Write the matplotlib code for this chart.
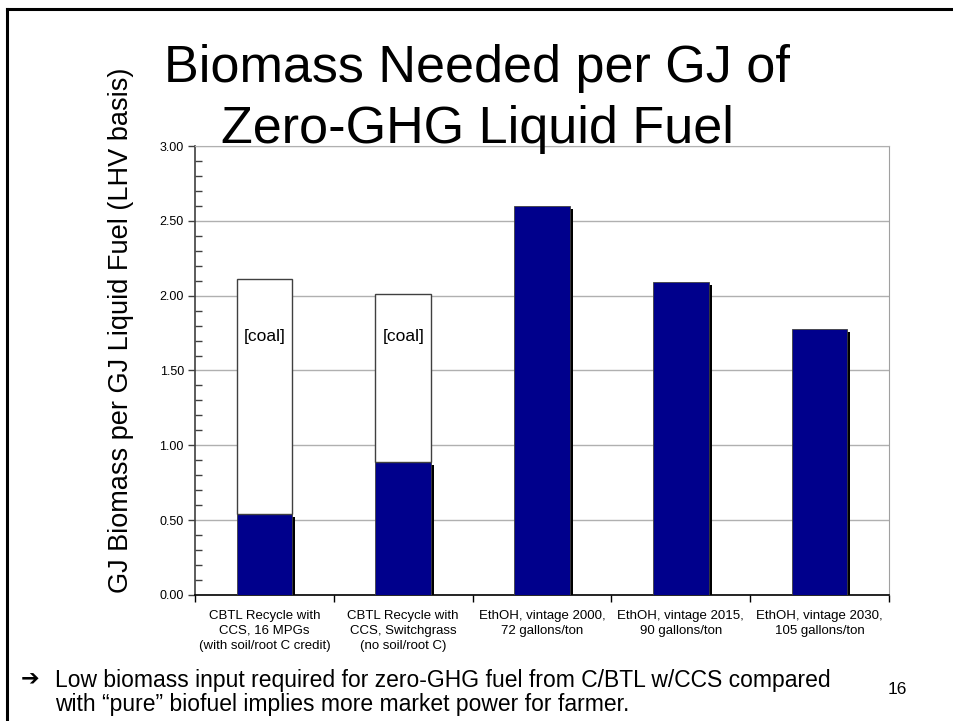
import matplotlib.pyplot as plt
import numpy as np

plt.rcParams['font.family'] = ['Liberation Sans', 'DejaVu Sans']

# data
categories = ['CBTL Recycle with\nCCS, 16 MPGs\n(with soil/root C credit)',
              'CBTL Recycle with\nCCS, Switchgrass\n(no soil/root C)',
              'EthOH, vintage 2000,\n72 gallons/ton',
              'EthOH, vintage 2015,\n90 gallons/ton',
              'EthOH, vintage 2030,\n105 gallons/ton']
biomass = [0.54, 0.89, 2.60, 2.09, 1.78]
coal = [1.57, 1.12, 0, 0, 0]
coal_label = '[coal]'

fig = plt.figure(figsize=(9.54, 7.21), dpi=100)

# slide frame (top and left edges visible)
fig.add_artist(plt.Line2D([0.0075, 0.0075], [0.0, 0.9875], color='black', lw=2.2, transform=fig.transFigure))
fig.add_artist(plt.Line2D([0.0075, 1.0], [0.9875, 0.9875], color='black', lw=2.2, transform=fig.transFigure))

fig.text(0.5, 0.905, 'Biomass Needed per GJ of', ha='center', va='center', fontsize=37.5)
fig.text(0.5, 0.82, 'Zero-GHG Liquid Fuel', ha='center', va='center', fontsize=37.5)

ax = fig.add_axes([0.2044, 0.1748, 0.7275, 0.6227])
x = np.arange(len(categories))
w = 0.40
dx, dy = 0.022, 0.02

# black drop shadow, then the blue bars
ax.bar(x + dx, np.array(biomass) - dy, width=w, color='black', zorder=2)
ax.bar(x, biomass, width=w, color='#00008C', edgecolor='#404040', linewidth=0.6, zorder=3)
tops = np.array(biomass) + np.array(coal)
coal_top = tops[np.array(coal) > 0].max()
for i, c in enumerate(coal):
    if c > 0:
        ax.bar(x[i], c, bottom=biomass[i], width=w, color='white', edgecolor='#404040', linewidth=1.0, zorder=3)
        ax.text(x[i], coal_top - 0.38, coal_label, ha='center', va='center', fontsize=12.5, zorder=4)

ax.set_xlim(-0.5, len(categories) - 0.5)
ax.set_ylim(0, 3.0)
ax.set_yticks(np.arange(0, 3.01, 0.5))
ax.set_yticklabels(['%.2f' % v for v in np.arange(0, 3.01, 0.5)], fontsize=9)
ax.set_yticks(np.arange(0, 3.01, 0.1), minor=True)
ax.tick_params(axis='y', which='major', direction='out', length=5, width=1, color='#404040', pad=3)
ax.tick_params(axis='y', which='minor', direction='in', length=5, width=1, color='#404040')
ax.yaxis.grid(True, color='#b0b0b0', linewidth=1)
ax.set_axisbelow(True)

ax.set_xticks(np.arange(-0.5, len(categories)), minor=True)
ax.set_xticks(x)
ax.set_xticklabels(categories, fontsize=9.5, linespacing=1.3)
ax.tick_params(axis='x', which='major', length=0, pad=11)
ax.tick_params(axis='x', which='minor', direction='out', length=5, width=1, color='black')

ax.spines['left'].set_color('#404040')
ax.spines['left'].set_linewidth(1.2)
ax.spines['bottom'].set_color('black')
ax.spines['bottom'].set_linewidth(1.2)
ax.spines['right'].set_color('#a0a0a0')
ax.spines['top'].set_color('#b0b0b0')

ax.set_ylabel('GJ Biomass per GJ Liquid Fuel (LHV basis)', fontsize=19.5)
ax.yaxis.set_label_coords(-0.088, 0.59)

fig.text(0.022, 0.058, '\u2794', fontsize=16, family=['DejaVu Sans'], va='center')
fig.text(0.058, 0.039, 'Low biomass input required for zero-GHG fuel from C/BTL w/CCS compared\n'
         'with \u201cpure\u201d biofuel implies more market power for farmer.',
         fontsize=16.5, va='center', linespacing=1.05)
fig.text(0.93, 0.043, '16', fontsize=12.5, va='center')

fig.savefig('out.png', dpi=100)
